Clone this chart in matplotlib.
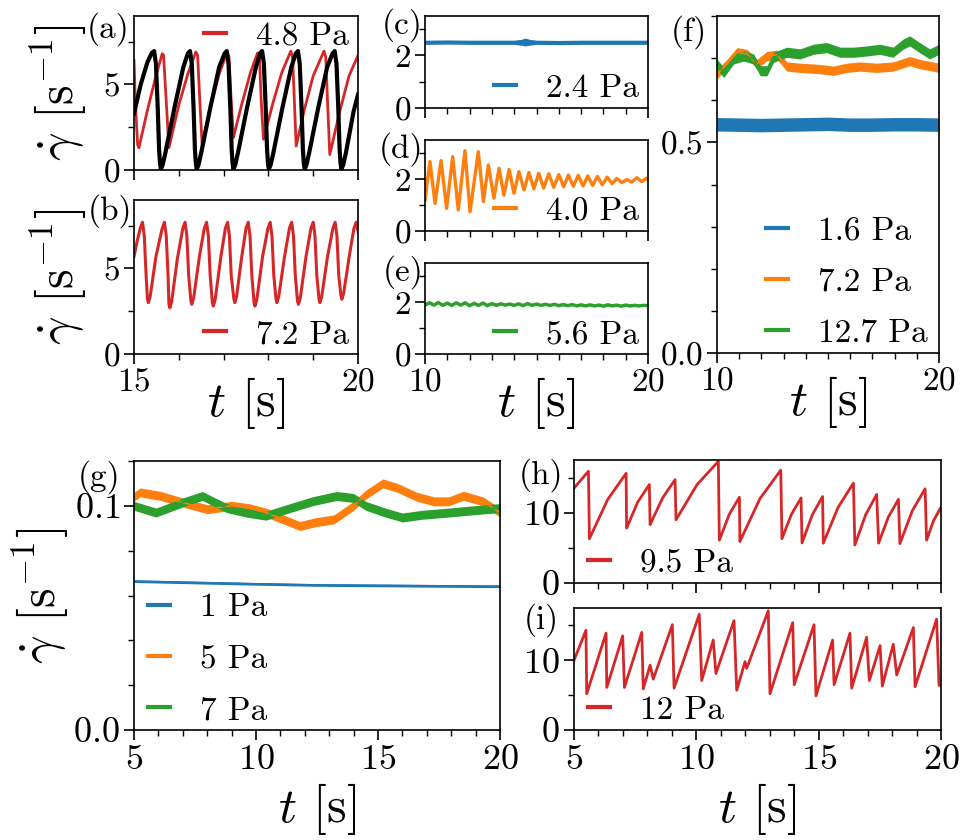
import numpy as np
import matplotlib
matplotlib.use("Agg")
import matplotlib.pyplot as plt
from matplotlib.ticker import MultipleLocator

plt.rcParams.update({
    "font.family": "serif",
    "font.serif": ["cmr10"],
    "mathtext.fontset": "cm",
    "axes.formatter.use_mathtext": True,
})

RED, BLUE, ORANGE, GREEN = "#d62728", "#1f77b4", "#ff7f0e", "#2ca02c"

# (a) 4.8 Pa experiment (red) and model (black)
a_red_t = [15.0, 15.03, 15.08, 15.11, 15.3, 15.5, 15.63, 15.66, 15.72, 15.78,
           16.0, 16.2, 16.38, 16.42, 16.47, 16.52, 16.7, 16.9, 17.08, 17.12,
           17.17, 17.22, 17.4, 17.6, 17.76, 17.8, 17.84, 17.89, 18.1, 18.3,
           18.5, 18.54, 18.58, 18.62, 18.8, 19.0, 19.24, 19.28, 19.32, 19.37,
           19.6, 19.8, 20.0]
a_red_v = [6.4, 4.0, 1.5, 1.3, 3.5, 5.6, 6.8, 6.7, 4.0, 1.3,
           3.8, 5.6, 6.9, 6.7, 4.0, 1.5, 3.6, 5.6, 6.9, 6.6,
           4.0, 1.9, 3.8, 5.7, 6.85, 6.6, 4.0, 1.8, 3.9, 5.7,
           6.95, 6.6, 4.0, 1.4, 3.5, 5.5, 6.95, 6.6, 4.0, 0.9,
           3.5, 5.5, 6.7]
a_blk_t = [15.0, 15.15, 15.3, 15.4, 15.45, 15.49, 15.53, 15.56, 15.58, 15.6,
           15.64, 15.7, 15.9, 16.1, 16.2, 16.25, 16.29, 16.33, 16.36, 16.38, 16.4,
           16.44, 16.5, 16.7, 16.9, 17.02, 17.07, 17.11, 17.15, 17.18, 17.2, 17.22,
           17.26, 17.32, 17.52, 17.72, 17.81, 17.86, 17.9, 17.94, 17.97, 17.99, 18.01,
           18.05, 18.11, 18.31, 18.51, 18.61, 18.66, 18.7, 18.74, 18.77, 18.79, 18.81,
           18.85, 18.91, 19.11, 19.31, 19.43, 19.48, 19.52, 19.56, 19.59, 19.61, 19.63,
           19.67, 19.73, 19.9, 20.0]
a_blk_v = [3.3, 5.0, 6.3, 6.85, 6.95, 6.2, 3.6, 1.2, 0.4, 0.05,
           0.3, 1.0, 3.6, 6.0, 6.8, 6.95, 6.2, 3.6, 1.2, 0.4, 0.05,
           0.3, 1.0, 3.6, 6.0, 6.8, 6.95, 6.2, 3.6, 1.2, 0.4, 0.05,
           0.3, 1.0, 3.6, 6.0, 6.8, 6.95, 6.2, 3.6, 1.2, 0.4, 0.05,
           0.3, 1.0, 3.6, 6.0, 6.8, 6.95, 6.2, 3.6, 1.2, 0.4, 0.05,
           0.3, 1.0, 3.6, 6.0, 6.8, 6.95, 6.2, 3.6, 1.2, 0.4, 0.05,
           0.3, 1.0, 3.4, 4.4]

# (b) 7.2 Pa
b_t = [15.0, 15.07, 15.14,
       15.19, 15.23, 15.27, 15.30, 15.32, 15.36, 15.49, 15.63,
       15.68, 15.72, 15.76, 15.78, 15.80, 15.84, 15.97, 16.09,
       16.14, 16.18, 16.22, 16.27, 16.29, 16.33, 16.46, 16.57,
       16.62, 16.66, 16.70, 16.75, 16.77, 16.81, 16.94, 17.04,
       17.09, 17.13, 17.17, 17.23, 17.25, 17.29, 17.40, 17.50,
       17.55, 17.59, 17.63, 17.68, 17.70, 17.74, 17.87, 17.99,
       18.04, 18.08, 18.12, 18.17, 18.19, 18.23, 18.36, 18.47,
       18.52, 18.56, 18.60, 18.65, 18.67, 18.71, 18.84, 18.95,
       19.00, 19.04, 19.08, 19.13, 19.15, 19.19, 19.32, 19.44,
       19.49, 19.53, 19.57, 19.62, 19.64, 19.68, 19.81, 19.91,
       19.96, 20.0]
b_v = [5.7, 6.6, 7.35,
       7.7, 6.9, 4.6, 3.2, 3.0, 3.35, 5.7, 7.35,
       7.7, 6.9, 4.6, 2.9, 2.7, 3.05, 5.6, 7.35,
       7.7, 6.9, 4.6, 3.1, 2.9, 3.25, 5.7, 7.35,
       7.7, 6.9, 4.6, 3.0, 2.8, 3.15, 5.7, 7.35,
       7.7, 6.9, 4.6, 3.2, 3.0, 3.35, 5.6, 7.35,
       7.7, 6.9, 4.6, 3.0, 2.8, 3.15, 5.7, 7.35,
       7.7, 6.9, 4.6, 3.2, 3.0, 3.35, 5.7, 7.35,
       7.7, 6.9, 4.6, 3.1, 2.9, 3.25, 5.7, 7.35,
       7.7, 6.9, 4.6, 3.2, 3.0, 3.35, 5.7, 7.35,
       7.7, 6.9, 4.6, 3.4, 3.2, 3.55, 5.8, 7.35,
       7.7, 7.2]

# (c) 2.4 Pa: centre of the noisy band and its half width
c_t = [10, 11, 12, 13, 14, 14.3, 14.5, 14.7, 15, 16, 17, 18, 19, 20]
c_v = [2.5, 2.51, 2.5, 2.5, 2.5, 2.5, 2.51, 2.5, 2.5, 2.49, 2.5, 2.5, 2.5, 2.5]
c_s = [0.08, 0.08, 0.08, 0.08, 0.08, 0.11, 0.15, 0.11, 0.08, 0.08, 0.08, 0.08, 0.08, 0.08]

# (d) 4.0 Pa
d_t = [10.0, 10.22, 10.45, 10.72, 10.97, 11.24, 11.49, 11.79, 12.02,
       12.39, 12.62, 12.84, 13.09, 13.32, 13.54, 13.77, 13.99, 14.21, 14.44,
       14.66, 14.88, 15.1, 15.32, 15.55, 15.77, 16.0, 16.22, 16.43, 16.65,
       16.87, 17.09, 17.3, 17.52, 17.73, 17.95, 18.17, 18.39, 18.6, 18.82,
       19.05, 19.27, 19.5, 19.72, 19.93, 20.0]
d_v = [1.2, 2.67, 1.06, 2.71, 0.87, 2.86, 0.81, 3.09, 0.74,
       3.05, 1.13, 2.54, 1.26, 2.41, 1.38, 2.37, 1.45, 2.28, 1.58,
       2.25, 1.62, 2.22, 1.65, 2.2, 1.68, 2.17, 1.7, 2.15, 1.72,
       2.14, 1.73, 2.12, 1.75, 2.1, 1.78, 2.07, 1.82, 2.02, 1.86,
       1.98, 1.88, 2.05, 1.9, 2.03, 1.98]

# (e) 5.6 Pa, sampled every 0.2 s
e_t = np.linspace(10, 20, 51)
e_v = [1.88, 1.97, 1.88, 1.98, 1.87, 1.96, 1.87, 1.97, 1.88, 1.97,
       1.86, 1.95, 1.87, 1.96, 1.86, 1.94, 1.87, 1.93, 1.88, 1.92,
       1.87, 1.93, 1.86, 1.94, 1.87, 1.92, 1.87, 1.91, 1.87, 1.91,
       1.86, 1.90, 1.86, 1.90, 1.85, 1.89, 1.85, 1.89, 1.85, 1.88,
       1.84, 1.89, 1.85, 1.88, 1.84, 1.88, 1.85, 1.87, 1.85, 1.87,
       1.86]

# (f) 1.6 / 7.2 / 12.7 Pa
f_blue_t = [10, 11, 12, 13, 14, 15, 16, 17, 18, 19, 20]
f_blue_v = [0.543, 0.542, 0.541, 0.542, 0.543, 0.544, 0.542, 0.542, 0.543, 0.543, 0.542]
f_blue_s = 0.016
f_orange_t = [10.0, 10.45, 10.9, 11.35, 11.8, 12.25, 12.7, 13.15, 13.75, 14.64,
              15.24, 15.84, 16.44, 17.19, 17.93, 18.68, 19.13, 20.0]
f_orange_v = [0.662, 0.686, 0.714, 0.71, 0.686, 0.705, 0.708, 0.68, 0.677, 0.674,
              0.67, 0.677, 0.68, 0.677, 0.68, 0.693, 0.686, 0.677]
f_orange_s = 0.011
f_green_t = [10.0, 10.3, 10.75, 11.2, 11.65, 11.95, 12.25, 12.55, 13.14, 13.74,
             14.34, 14.94, 15.54, 16.14, 16.74, 17.34, 17.93, 18.38, 18.68, 19.13,
             19.58, 20.0]
f_green_v = [0.686, 0.666, 0.698, 0.705, 0.698, 0.67, 0.67, 0.702, 0.714, 0.71,
             0.721, 0.725, 0.714, 0.714, 0.717, 0.721, 0.714, 0.733, 0.741, 0.725,
             0.71, 0.721]
f_green_s = 0.012

# (g) 1 / 5 / 7 Pa
g_blue_t = [5, 7.5, 10, 12.5, 15, 17.5, 20]
g_blue_v = [0.0664, 0.0658, 0.0652, 0.0647, 0.0645, 0.0643, 0.0641]
g_blue_s = 0.0006
g_orange_t = [5.0, 5.25, 6.1, 7.0, 8.0, 9.0, 9.7, 10.4, 11.1, 11.8, 12.4,
              13.2, 14.0, 14.5, 15.2, 15.8, 16.6, 17.3, 17.9, 18.5, 19.3, 20.0]
g_orange_v = [0.104, 0.106, 0.1044, 0.1015, 0.0985, 0.100, 0.099, 0.097, 0.094, 0.091, 0.0926,
              0.094, 0.100, 0.105, 0.110, 0.108, 0.104, 0.102, 0.102, 0.1045, 0.102, 0.097]
g_green_t = [5.0, 5.9, 7.0, 7.8, 8.8, 9.6, 10.4, 11.4, 12.3, 13.3, 14.0,
             14.5, 15.3, 16.0, 16.8, 17.9, 18.9, 20.0]
g_green_v = [0.100, 0.097, 0.1015, 0.1044, 0.099, 0.097, 0.0956, 0.099, 0.102, 0.1044, 0.1035,
             0.100, 0.097, 0.0948, 0.096, 0.097, 0.098, 0.099]
g_noise_s = 0.002

# (h) 9.5 Pa
h_t = [5.0, 5.59, 5.63, 6.38, 7.13, 7.15, 7.6, 8.08, 8.11, 8.62, 9.13, 9.17,
       10.03, 10.9, 10.94, 11.35, 11.76, 11.78, 12.6, 13.45, 13.5, 13.89, 14.28, 14.32,
       14.74, 15.16, 15.19, 15.8, 16.42, 16.48, 16.92, 17.37, 17.45, 17.85, 18.26, 18.32,
       18.83, 19.35, 19.41, 19.7, 20.0]
h_v = [13.5, 15.9, 6.3, 11.9, 15.6, 7.8, 11.5, 14.0, 8.3, 12.1, 14.7, 9.0,
       14.0, 17.3, 6.1, 9.8, 12.2, 5.9, 12.0, 16.05, 6.3, 9.8, 12.1, 5.7,
       9.7, 12.3, 5.67, 10.8, 14.2, 5.4, 9.7, 12.6, 5.67, 9.4, 11.9, 5.6,
       10.3, 13.4, 6.1, 8.9, 10.8]

# (i) 12 Pa
i_t = [5.0, 5.49, 5.52, 6.31, 6.34, 6.99, 7.06, 7.77, 7.83, 8.11,
       8.24, 9.02, 9.09, 10.12, 10.22, 10.69, 10.8, 11.54, 11.65, 11.99,
       12.06, 12.94, 13.01, 13.94, 14.0, 14.81, 14.89, 15.57, 15.63, 16.28,
       16.35, 16.96, 17.07, 17.51, 17.6, 18.05, 18.19, 18.87, 18.94, 19.82,
       19.92, 20.0]
i_v = [10.0, 14.3, 5.2, 13.9, 6.1, 13.5, 6.1, 14.0, 5.9, 9.3,
       7.3, 15.1, 6.0, 16.6, 7.1, 12.9, 8.1, 15.7, 5.7, 9.8,
       8.85, 17.1, 5.2, 15.4, 6.5, 15.1, 4.9, 12.9, 6.5, 13.9,
       6.0, 13.3, 7.1, 12.1, 6.3, 12.3, 7.9, 14.7, 6.2, 15.9,
       6.4, 6.4]

YLABEL = r"$\dot{\gamma}$ [s$^{-1}$]"
XLABEL = r"$t$ [s]"

fig = plt.figure(figsize=(9.6, 8.4), dpi=100)


def box(l, t, r, b):
    # pixel edges -> figure fraction
    return [l / 960, 1 - b / 840, (r - l) / 960, (b - t) / 840]


def setup(ax, xlim, xmaj, ylim, ymaj, ymin, fs=24):
    ax.set_xlim(xlim)
    ax.set_ylim(ylim)
    ax.xaxis.set_major_locator(MultipleLocator(xmaj))
    ax.xaxis.set_minor_locator(MultipleLocator(1))
    ax.yaxis.set_major_locator(MultipleLocator(ymaj))
    ax.yaxis.set_minor_locator(MultipleLocator(ymin))
    ax.tick_params(which="major", length=7, width=1.2, labelsize=fs, pad=3)
    ax.tick_params(which="minor", length=4, width=1.0)
    for sp in ax.spines.values():
        sp.set_linewidth(1.2)


def tag(ax, s, dx, dy):
    ax.annotate(s, xy=(0, 1), xycoords="axes fraction", xytext=(dx, dy),
                textcoords="offset pixels", ha="right", va="top", fontsize=24)


def leg(ax, loc, anchor):
    lg = ax.legend(loc=loc, bbox_to_anchor=anchor, frameon=False, fontsize=24,
                   handlelength=0.65, handletextpad=0.9, borderpad=0.15,
                   borderaxespad=0.0, labelspacing=0.66)
    for h in lg.legend_handles:
        h.set_linewidth(3)


def band(ax, t, v, s, color, label=None):
    v = np.asarray(v)
    s = np.asarray(s)
    ax.fill_between(t, v - s, v + s, color=color, lw=0)
    ax.plot(t, v, color=color, lw=1.2, label=label)


ax_a = fig.add_axes(box(134, 16, 358, 170))
ax_b = fig.add_axes(box(134, 200, 358, 354))
ax_c = fig.add_axes(box(425, 16, 648, 108))
ax_d = fig.add_axes(box(425, 140, 648, 231))
ax_e = fig.add_axes(box(425, 263, 648, 354))
ax_f = fig.add_axes(box(717, 16, 939, 353))
ax_g = fig.add_axes(box(134, 461, 500, 730))
ax_h = fig.add_axes(box(574, 460, 941, 583))
ax_i = fig.add_axes(box(574, 608, 941, 730))

# (a)
ax_a.plot(a_red_t, a_red_v, color=RED, lw=2.0, label="4.8 Pa")
ax_a.plot(a_blk_t, a_blk_v, color="black", lw=3.0)
setup(ax_a, (15, 20), 5, (0, 9), 5, 2.5)
ax_a.tick_params(labelbottom=False)
ax_a.set_ylabel(YLABEL, fontsize=36, labelpad=10)
leg(ax_a, "upper right", (0.98, 1.0))
tag(ax_a, "(a)", -4, 4)

# (b)
ax_b.plot(b_t, b_v, color=RED, lw=2.2, label="7.2 Pa")
setup(ax_b, (15, 20), 5, (0, 9), 5, 2.5)
ax_b.set_ylabel(YLABEL, fontsize=36, labelpad=10)
ax_b.set_xlabel(XLABEL, fontsize=36, labelpad=-16)
leg(ax_b, "lower right", (0.98, 0.0))
tag(ax_b, "(b)", -2, 6)

# (c)
band(ax_c, c_t, c_v, c_s, BLUE, "2.4 Pa")
setup(ax_c, (10, 20), 10, (0, 3.5), 2, 1)
ax_c.tick_params(labelbottom=False)
leg(ax_c, "lower right", (0.98, 0.0))
tag(ax_c, "(c)", -2, 8)

# (d)
ax_d.plot(d_t, d_v, color=ORANGE, lw=2.4, label="4.0 Pa")
setup(ax_d, (10, 20), 10, (0, 3.5), 2, 1)
ax_d.tick_params(labelbottom=False)
leg(ax_d, "lower right", (0.98, 0.0))
tag(ax_d, "(d)", -2, 8)

# (e)
ax_e.plot(e_t, e_v, color=GREEN, lw=2.5, label="5.6 Pa")
setup(ax_e, (10, 20), 10, (0, 3.5), 2, 1)
ax_e.set_xlabel(XLABEL, fontsize=36, labelpad=-16)
leg(ax_e, "lower right", (0.98, 0.0))
tag(ax_e, "(e)", -2, 8)

# (f)
band(ax_f, f_blue_t, f_blue_v, f_blue_s, BLUE, "1.6 Pa")
band(ax_f, f_orange_t, f_orange_v, f_orange_s, ORANGE, "7.2 Pa")
band(ax_f, f_green_t, f_green_v, f_green_s, GREEN, "12.7 Pa")
setup(ax_f, (10, 20), 10, (0, 0.8), 0.5, 0.1)
ax_f.set_xlabel(XLABEL, fontsize=36, labelpad=-16)
leg(ax_f, "lower right", (0.97, 0.0))
tag(ax_f, "(f)", -10, 1)

# (g)
band(ax_g, g_blue_t, g_blue_v, g_blue_s, BLUE, "1 Pa")
band(ax_g, g_orange_t, g_orange_v, g_noise_s, ORANGE, "5 Pa")
band(ax_g, g_green_t, g_green_v, g_noise_s, GREEN, "7 Pa")
setup(ax_g, (5, 20), 5, (0, 0.12), 0.1, 0.02, fs=26)
ax_g.set_ylabel(YLABEL, fontsize=36, labelpad=2)
ax_g.set_xlabel(XLABEL, fontsize=36, labelpad=4)
leg(ax_g, "lower left", (0.025, 0.0))
tag(ax_g, "(g)", -14, 1)

# (h)
ax_h.plot(h_t, h_v, color=RED, lw=2.0, label="9.5 Pa")
setup(ax_h, (5, 20), 5, (0, 17.5), 10, 5, fs=26)
ax_h.tick_params(labelbottom=False)
leg(ax_h, "lower left", (0.025, 0.0))
tag(ax_h, "(h)", -11, 2)

# (i)
ax_i.plot(i_t, i_v, color=RED, lw=2.0, label="12 Pa")
setup(ax_i, (5, 20), 5, (0, 17.5), 10, 5, fs=26)
ax_i.set_xlabel(XLABEL, fontsize=36, labelpad=4)
leg(ax_i, "lower left", (0.025, 0.0))
tag(ax_i, "(i)", -15, 5)

fig.savefig("out.png", dpi=100)
